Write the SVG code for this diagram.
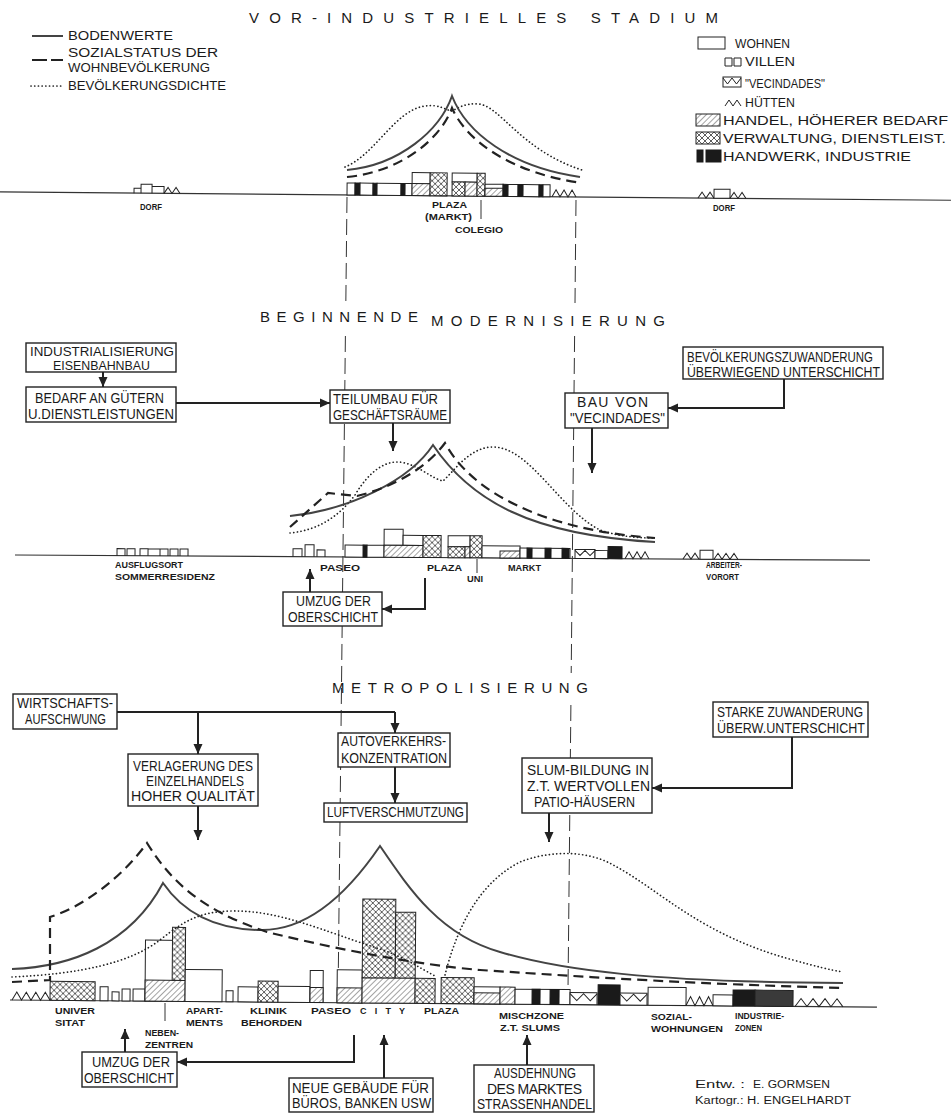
<svg xmlns="http://www.w3.org/2000/svg" width="951" height="1113" viewBox="0 0 951 1113">
<style>
text{font-family:"Liberation Sans",Arial,sans-serif;fill:#1a1a1a}
.ttl{font-size:15px}
.lg{font-size:12px}
.bt{font-size:14px}
.bs{font-size:12.5px}
.sl{font-size:9px;font-weight:bold}
.cr{font-size:10px}
.bx{fill:#fff;stroke:#222;stroke-width:1.4}
.b{fill:#fff;stroke:#222;stroke-width:1}
.h{fill:url(#hatch);stroke:#222;stroke-width:1}
.x{fill:url(#xhatch);stroke:#222;stroke-width:1}
.k{fill:#1a1a1a;stroke:#1a1a1a;stroke-width:1}
.g{fill:#3a3a3a;stroke:#222;stroke-width:1}
.o{fill:none;stroke:#222;stroke-width:1}
.base{stroke:#333;stroke-width:1.2;fill:none}
.guide{stroke:#333;stroke-width:1;fill:none;stroke-dasharray:16 6}
.c1{fill:none;stroke:#444;stroke-width:2}
.c2{fill:none;stroke:#222;stroke-width:2.2;stroke-dasharray:10 6}
.c3{fill:none;stroke:#222;stroke-width:1.7;stroke-dasharray:0.1 3.6;stroke-linecap:round}
.ar{fill:none;stroke:#222;stroke-width:2;marker-end:url(#ah)}
.ln{fill:none;stroke:#222;stroke-width:2}
</style>
<defs>
<pattern id="hatch" patternUnits="userSpaceOnUse" width="4" height="4" patternTransform="rotate(45)"><rect width="4" height="4" fill="#fff"/><line x1="0" y1="0" x2="0" y2="4" stroke="#333" stroke-width="0.9"/></pattern>
<pattern id="xhatch" patternUnits="userSpaceOnUse" width="6" height="6"><rect width="6" height="6" fill="#fff"/><path d="M0,0 L6,6 M6,0 L0,6" stroke="#333" stroke-width="0.8"/></pattern>
<marker id="ah" viewBox="0 0 10 10" refX="10" refY="5" markerWidth="10" markerHeight="10" markerUnits="userSpaceOnUse" orient="auto"><path d="M0,0.5 L10,5 L0,9.5 z" fill="#222"/></marker>
</defs>
<rect width="951" height="1113" fill="#fff"/>

<!-- titles -->
<g id="titles">
<text class="ttl" x="249" y="23" textLength="469" lengthAdjust="spacing">VOR-INDUSTRIELLES STADIUM</text>
<text class="ttl" x="260" y="322" textLength="158" lengthAdjust="spacing">BEGINNENDE</text>
<text class="ttl" x="431" y="326" textLength="234" lengthAdjust="spacing">MODERNISIERUNG</text>
<text class="ttl" x="332" y="693" textLength="256" lengthAdjust="spacing">METROPOLISIERUNG</text>
</g>

<!-- legend left -->
<g id="legend-lines">
<line x1="32" y1="36" x2="63" y2="36" class="c1"/>
<text class="lg" x="68" y="40" textLength="105" lengthAdjust="spacingAndGlyphs">BODENWERTE</text>
<line x1="32" y1="60" x2="63" y2="60" stroke="#222" stroke-width="2.2" stroke-dasharray="15 4"/>
<text class="lg" x="68" y="57" textLength="150" lengthAdjust="spacingAndGlyphs">SOZIALSTATUS DER</text>
<text class="lg" x="68" y="72" textLength="142" lengthAdjust="spacingAndGlyphs">WOHNBEVÖLKERUNG</text>
<line x1="31" y1="86" x2="63" y2="86" class="c3"/>
<text class="lg" x="68" y="90" textLength="158" lengthAdjust="spacingAndGlyphs">BEVÖLKERUNGSDICHTE</text>
</g>

<!-- legend right -->
<g id="legend-uses">
<rect class="b" x="698" y="37" width="27" height="12"/>
<text class="lg" x="735" y="48" textLength="55" lengthAdjust="spacingAndGlyphs">WOHNEN</text>
<path class="o" d="M725,66 V58 H732 V66 Z M734,66 V58 H741 V66 Z"/>
<text class="lg" x="745" y="66" textLength="50" lengthAdjust="spacingAndGlyphs">VILLEN</text>
<rect class="b" x="723" y="77" width="18" height="10"/>
<path class="o" d="M723,78 L727.5,84 L732,78 L736.5,84 L741,78"/>
<text class="lg" x="745" y="88" textLength="80" lengthAdjust="spacingAndGlyphs">"VECINDADES"</text>
<path class="o" d="M725,106 L729,100 L733,106 L737,100 L741,106"/>
<text class="lg" x="745" y="107" textLength="50" lengthAdjust="spacingAndGlyphs">HÜTTEN</text>
<rect class="h" x="696" y="114" width="24" height="12"/>
<text class="lg" x="723" y="125" textLength="225" lengthAdjust="spacingAndGlyphs">HANDEL, HÖHERER BEDARF</text>
<rect class="x" x="696" y="132" width="24" height="12"/>
<text class="lg" x="723" y="143" textLength="223" lengthAdjust="spacingAndGlyphs">VERWALTUNG, DIENSTLEIST.</text>
<rect class="k" x="697" y="150" width="6" height="12"/>
<rect class="k" x="706" y="150" width="15" height="12"/>
<text class="lg" x="723" y="161" textLength="188" lengthAdjust="spacingAndGlyphs">HANDWERK, INDUSTRIE</text>
</g>

<!-- guide lines -->
<g id="guides">
<path class="guide" d="M347,197 L345.8,305 M345.4,336 L338,1000"/>
<path class="guide" d="M576,200 L575,303 M574.6,336 L571.2,673 M570.9,705 L568,990"/>
</g>

<!-- STAGE 1 -->
<g id="strip1" transform="rotate(0.5 347 195)">
<line class="base" x1="0" y1="195" x2="951" y2="195"/>
<path class="o" d="M134,195 V190 H141 V195 M141,195 V186 H152 V195 M152,195 V188 H164 V195"/>
<path class="o" d="M164,195 L168,189 L172,195 L176,189 L180,195"/>
<path class="o" d="M698,195 L702,189 L706,195 L710,189 L714,195"/>
<rect class="b" x="714" y="186" width="16" height="9"/>
<path class="o" d="M730,195 L734,189 L738,195 L742,189 L746,195"/>
<rect class="b" x="347" y="183" width="8" height="12"/>
<rect class="k" x="355" y="183" width="5" height="12"/>
<rect class="b" x="360" y="183" width="13" height="12"/>
<rect class="k" x="373" y="183" width="4" height="12"/>
<rect class="b" x="377" y="183" width="24" height="12"/>
<rect class="k" x="401" y="183" width="4" height="12"/>
<rect class="b" x="405" y="183" width="7" height="12"/>
<rect class="b" x="412" y="172" width="18" height="11"/>
<rect class="h" x="412" y="183" width="18" height="12"/>
<rect class="x" x="430" y="172" width="17" height="23"/>
<rect class="b" x="452" y="172" width="25" height="9"/>
<rect class="x" x="452" y="181" width="13" height="14"/>
<rect class="h" x="465" y="181" width="12" height="14"/>
<rect class="x" x="477" y="172" width="8" height="23"/>
<rect class="b" x="485" y="183" width="18" height="12"/>
<rect class="h" x="485" y="187" width="18" height="8"/>
<rect class="k" x="503" y="183" width="5" height="12"/>
<rect class="b" x="508" y="183" width="10" height="12"/>
<rect class="k" x="518" y="183" width="5" height="12"/>
<rect class="b" x="523" y="183" width="16" height="12"/>
<rect class="k" x="539" y="183" width="4" height="12"/>
<rect class="b" x="543" y="183" width="7" height="12"/>
<path class="o" d="M552,195 L556,188 L560,195 L564,188 L568,195 L572,188 L576,195"/>
</g>
<g id="curves1">
<path class="c3" d="M345,167 C375,155 395,110 425,106 C440,104 445,110 452,111 C458,108 465,103 478,104 C500,105 520,150 582,170"/>
<path class="c1" d="M347,170 C400,165 440,130 452,96 C466,132 510,167 580,177"/>
<path class="c2" d="M347,177 C400,172 440,140 452,108 C466,140 510,173 582,183"/>
</g>
<g id="labels1">
<text class="sl" x="140" y="210" textLength="22" lengthAdjust="spacingAndGlyphs">DORF</text>
<text class="sl" x="713" y="211" textLength="22" lengthAdjust="spacingAndGlyphs">DORF</text>
<text class="sl" x="432" y="208" textLength="35" lengthAdjust="spacingAndGlyphs">PLAZA</text>
<text class="sl" x="425" y="220" textLength="47" lengthAdjust="spacingAndGlyphs">(MARKT)</text>
<text class="sl" x="455" y="233" textLength="48" lengthAdjust="spacingAndGlyphs">COLEGIO</text>
<line x1="481" y1="200" x2="481" y2="219" stroke="#333" stroke-width="1"/>
</g>

<!-- STAGE 2 -->
<g id="strip2" transform="rotate(0.35 15 555)">
<line class="base" x1="15" y1="555" x2="870" y2="555"/>
<path class="o" d="M117,555 V548 H125 V555 M127,555 V548 H135 V555 M140,555 V548 H148 V555 M148,548 H160 M160,555 V548 H168 V555 M170,555 V548 H178 V555 M180,555 V548 H188 V555"/>
<path class="o" d="M293,555 V547 H302 V555 M305,555 V543 H314 V555 M317,555 V548 H325 V555"/>
<rect class="b" x="345" y="543" width="22" height="12"/>
<rect class="k" x="363" y="543" width="4" height="12"/>
<rect class="b" x="367" y="543" width="17" height="12"/>
<rect class="b" x="384" y="527" width="19" height="16"/>
<rect class="b" x="403" y="533" width="20" height="10"/>
<rect class="h" x="384" y="543" width="39" height="12"/>
<rect class="x" x="423" y="533" width="18" height="22"/>
<rect class="b" x="448" y="533" width="22" height="11"/>
<rect class="x" x="448" y="544" width="17" height="11"/>
<rect class="h" x="465" y="544" width="5" height="11"/>
<rect class="x" x="470" y="533" width="12" height="22"/>
<rect class="b" x="482" y="543" width="38" height="12"/>
<rect class="h" x="500" y="548" width="20" height="7"/>
<rect class="b" x="520" y="545" width="50" height="10"/>
<rect class="k" x="527" y="545" width="5" height="10"/>
<rect class="k" x="545" y="545" width="6" height="10"/>
<rect class="k" x="562" y="545" width="7" height="10"/>
<rect class="b" x="575" y="546" width="20" height="9"/>
<path class="o" d="M575,547 L580,552 L585,547 L590,552 L595,547"/>
<rect class="b" x="595" y="547" width="13" height="8"/>
<rect class="k" x="608" y="543" width="14" height="12"/>
<path class="o" d="M625,555 L629,548 L633,555 L637,548 L641,555 L645,548 L649,555"/>
<path class="o" d="M683,555 L687,549 L691,555 L695,549 L699,555"/>
<rect class="b" x="700" y="546" width="13" height="9"/>
<path class="o" d="M714,555 L718,549 L722,555 L726,549 L730,555 L734,549 L738,555"/>
</g>
<g id="curves2">
<path class="c3" d="M290,533 C320,530 340,515 355,495 C370,470 385,462 397,462 C415,462 430,478 443,481 C455,470 470,447 493,447 C530,447 560,510 600,530 C620,537 640,538 655,538"/>
<path class="c1" d="M290,516 C350,510 410,480 433,445 C470,500 530,535 655,542"/>
<path class="c2" d="M290,527 L328,493 L357,496 C390,488 425,470 445,443 C470,490 540,530 655,538"/>
</g>
<g id="labels2">
<text class="sl" x="115" y="568" textLength="68" lengthAdjust="spacingAndGlyphs">AUSFLUGSORT</text>
<text class="sl" x="115" y="580" textLength="100" lengthAdjust="spacingAndGlyphs">SOMMERRESIDENZ</text>
<text class="sl" x="320" y="571" textLength="40" lengthAdjust="spacingAndGlyphs">PASEO</text>
<text class="sl" x="427" y="571" textLength="35" lengthAdjust="spacingAndGlyphs">PLAZA</text>
<text class="sl" x="467" y="582" textLength="16" lengthAdjust="spacingAndGlyphs">UNI</text>
<line x1="477" y1="559" x2="477" y2="573" stroke="#333" stroke-width="1"/>
<text class="sl" x="508" y="571" textLength="33" lengthAdjust="spacingAndGlyphs">MARKT</text>
<text class="sl" x="706" y="568" textLength="36" lengthAdjust="spacingAndGlyphs">ARBEITER-</text>
<text class="sl" x="706" y="580" textLength="33" lengthAdjust="spacingAndGlyphs">VORORT</text>
</g>

<!-- STAGE 3 -->
<g id="strip3" transform="rotate(0.47 10 1000)">
<line class="base" x1="10" y1="1000" x2="877" y2="1000"/>
<path class="o" d="M12,1000 L16.75,992 L21.5,1000 L26.25,992 L31,1000 L35.75,992 L40.5,1000 L45.25,992 L50,1000"/>
<rect class="x" x="50" y="981" width="45" height="19"/>
<rect class="b" x="100" y="986" width="8" height="14"/>
<rect class="b" x="112" y="991" width="7" height="9"/>
<rect class="b" x="122" y="988" width="8" height="12"/>
<rect class="b" x="133" y="988" width="12" height="12"/>
<rect class="b" x="145" y="939" width="40" height="61"/>
<rect class="h" x="145" y="979" width="40" height="21"/>
<rect class="x" x="172" y="926" width="13" height="53"/>
<rect class="b" x="185" y="968" width="37" height="32"/>
<rect class="b" x="226" y="989" width="7" height="11"/>
<rect class="b" x="238" y="985" width="20" height="15"/>
<rect class="x" x="258" y="979" width="20" height="21"/>
<rect class="b" x="278" y="984" width="32" height="16"/>
<rect class="b" x="310" y="968" width="13" height="32"/>
<rect class="h" x="310" y="985" width="13" height="15"/>
<rect class="b" x="337" y="967" width="25" height="33"/>
<rect class="h" x="337" y="985" width="25" height="15"/>
<rect class="x" x="362" y="896" width="33" height="79"/>
<rect class="x" x="395" y="909" width="20" height="66"/>
<rect class="h" x="362" y="975" width="53" height="25"/>
<rect class="x" x="415" y="975" width="20" height="25"/>
<rect class="x" x="441" y="974" width="33" height="26"/>
<rect class="b" x="474" y="983" width="26" height="17"/>
<rect class="h" x="474" y="989" width="26" height="11"/>
<rect class="h" x="500" y="983" width="15" height="17"/>
<rect class="b" x="515" y="985" width="55" height="15"/>
<rect class="k" x="532" y="985" width="8" height="15"/>
<rect class="k" x="550" y="985" width="9" height="15"/>
<rect class="b" x="570" y="988" width="27" height="12"/>
<path class="o" d="M570,989 L576.75,996 L583.5,989 L590.25,996 L597,989"/>
<rect class="k" x="598" y="980" width="22" height="20"/>
<rect class="b" x="620" y="988" width="27" height="12"/>
<path class="o" d="M620,989 L626.75,996 L633.5,989 L640.25,996 L647,989"/>
<rect class="b" x="648" y="982" width="38" height="18"/>
<path class="o" d="M686,1000 L690.5,991 L695,1000 L699.5,991 L704,1000 L708.5,991 L713,1000"/>
<rect class="b" x="713" y="989" width="20" height="11"/>
<rect class="k" x="733" y="984" width="22" height="16"/>
<rect class="g" x="755" y="984" width="38" height="16"/>
<path class="o" d="M795,1000 L801,992 L807,1000 L813,992 L819,1000 L825,992 L831,1000 L837,992 L843,1000"/>
</g>
<g id="curves3">
<path class="c3" d="M12,977 C80,974 130,963 160,940 C185,920 200,912 230,911 C280,910 320,930 383,950 C405,958 420,968 435,976"/>
<path class="c3" d="M445,975 C455,935 475,885 520,862 C545,852 585,848 615,866 C660,890 700,935 793,960 C815,966 830,970 843,972"/>
<path class="c1" d="M12,969 C70,967 130,945 163,883 C185,915 220,930 262,930 C310,930 350,890 380,846 C410,890 440,935 500,952 C560,970 650,982 843,983"/>
<path class="c2" d="M12,982 L50,980 L50,917 C80,908 120,880 147,843 C170,880 200,910 267,932 C340,950 420,965 480,970 C600,978 700,984 843,988"/>
</g>
<g id="labels3">
<text class="sl" x="55" y="1014" textLength="40" lengthAdjust="spacingAndGlyphs">UNIVER</text>
<text class="sl" x="55" y="1026" textLength="30" lengthAdjust="spacingAndGlyphs">SITAT</text>
<line x1="165" y1="1003" x2="165" y2="1021" stroke="#333" stroke-width="1"/>
<text class="sl" x="145" y="1036" textLength="34" lengthAdjust="spacingAndGlyphs">NEBEN-</text>
<text class="sl" x="145" y="1048" textLength="48" lengthAdjust="spacingAndGlyphs">ZENTREN</text>
<text class="sl" x="186" y="1014" textLength="37" lengthAdjust="spacingAndGlyphs">APART-</text>
<text class="sl" x="186" y="1026" textLength="37" lengthAdjust="spacingAndGlyphs">MENTS</text>
<text class="sl" x="250" y="1014" textLength="37" lengthAdjust="spacingAndGlyphs">KLINIK</text>
<text class="sl" x="241" y="1026" textLength="61" lengthAdjust="spacingAndGlyphs">BEHORDEN</text>
<text class="sl" x="311" y="1014" textLength="40" lengthAdjust="spacingAndGlyphs">PASEO</text>
<text class="sl" x="360" y="1014" textLength="45" lengthAdjust="spacing">C I T Y</text>
<text class="sl" x="424" y="1014" textLength="35" lengthAdjust="spacingAndGlyphs">PLAZA</text>
<text class="sl" x="499" y="1019" textLength="65" lengthAdjust="spacingAndGlyphs">MISCHZONE</text>
<text class="sl" x="500" y="1031" textLength="60" lengthAdjust="spacingAndGlyphs">Z.T. SLUMS</text>
<text class="sl" x="651" y="1020" textLength="41" lengthAdjust="spacingAndGlyphs">SOZIAL-</text>
<text class="sl" x="651" y="1032" textLength="72" lengthAdjust="spacingAndGlyphs">WOHNUNGEN</text>
<text class="sl" x="735" y="1019" textLength="49" lengthAdjust="spacingAndGlyphs">INDUSTRIE-</text>
<text class="sl" x="735" y="1031" textLength="27" lengthAdjust="spacingAndGlyphs">ZONEN</text>
<text class="cr" x="695" y="1088" textLength="50" lengthAdjust="spacingAndGlyphs">Entw. :</text>
<text class="cr" x="753" y="1088" textLength="77" lengthAdjust="spacingAndGlyphs">E. GORMSEN</text>
<text class="cr" x="695" y="1104" textLength="156" lengthAdjust="spacingAndGlyphs">Kartogr.: H. ENGELHARDT</text>
</g>

<!-- connectors -->
<g id="connectors">
<path class="ar" d="M103,372 V387"/>
<path class="ar" d="M176,403 H330"/>
<path class="ar" d="M393,423 V451"/>
<path class="ar" d="M784,379 V408 H668"/>
<path class="ar" d="M592,428 V473"/>
<path class="ar" d="M310,592 V569"/>
<path class="ar" d="M425,578 V609 H382"/>
<path class="ln" d="M117,712 H395"/>
<path class="ar" d="M198,712 V754"/>
<path class="ar" d="M395,712 V733"/>
<path class="ar" d="M395,767 V803"/>
<path class="ar" d="M198,806 V840"/>
<path class="ar" d="M792,737 V788 H652"/>
<path class="ar" d="M549,813 V842"/>
<path class="ar" d="M125,1052 V1029"/>
<path class="ar" d="M354,1035 V1062 H177"/>
<path class="ar" d="M384,1078 V1035"/>
<path class="ar" d="M527,1065 V1035"/>
</g>

<!-- boxes -->
<g id="n-industrialisierung">
<rect class="bx" x="26" y="343" width="150" height="29"/>
<text class="bs" x="30" y="356" textLength="144" lengthAdjust="spacingAndGlyphs">INDUSTRIALISIERUNG</text>
<text class="bs" x="53" y="370" textLength="97" lengthAdjust="spacingAndGlyphs">EISENBAHNBAU</text>
</g>
<g id="n-bedarf">
<rect class="bx" x="26" y="387" width="150" height="35"/>
<text class="bt" x="35" y="403" textLength="129" lengthAdjust="spacingAndGlyphs">BEDARF AN GÜTERN</text>
<text class="bt" x="28" y="419" textLength="146" lengthAdjust="spacingAndGlyphs">U.DIENSTLEISTUNGEN</text>
</g>
<g id="n-teilumbau">
<rect class="bx" x="330" y="390" width="120" height="33"/>
<text class="bt" x="333" y="404" textLength="105" lengthAdjust="spacingAndGlyphs">TEILUMBAU FÜR</text>
<text class="bt" x="333" y="420" textLength="114" lengthAdjust="spacingAndGlyphs">GESCHÄFTSRÄUME</text>
</g>
<g id="n-bevzuwanderung">
<rect class="bx" x="683" y="347" width="200" height="32"/>
<text class="bt" x="687" y="362" textLength="186" lengthAdjust="spacingAndGlyphs">BEVÖLKERUNGSZUWANDERUNG</text>
<text class="bt" x="687" y="377" textLength="193" lengthAdjust="spacingAndGlyphs">ÜBERWIEGEND UNTERSCHICHT</text>
</g>
<g id="n-bauvon">
<rect class="bx" x="565" y="393" width="103" height="35"/>
<text class="bt" x="577" y="407" textLength="71" lengthAdjust="spacing">BAU  VON</text>
<text class="bt" x="570" y="423" textLength="95" lengthAdjust="spacingAndGlyphs">"VECINDADES"</text>
</g>
<g id="n-umzug1">
<rect class="bx" x="283" y="592" width="99" height="34"/>
<text class="bt" x="296" y="606" textLength="75" lengthAdjust="spacingAndGlyphs">UMZUG DER</text>
<text class="bt" x="288" y="622" textLength="90" lengthAdjust="spacingAndGlyphs">OBERSCHICHT</text>
</g>
<g id="n-wirtschaft">
<rect class="bx" x="13" y="694" width="104" height="35"/>
<text class="bt" x="17" y="708" textLength="96" lengthAdjust="spacingAndGlyphs">WIRTSCHAFTS-</text>
<text class="bt" x="25" y="724" textLength="81" lengthAdjust="spacingAndGlyphs">AUFSCHWUNG</text>
</g>
<g id="n-verlagerung">
<rect class="bx" x="128" y="754" width="130" height="52"/>
<text class="bt" x="133" y="771" textLength="120" lengthAdjust="spacingAndGlyphs">VERLAGERUNG DES</text>
<text class="bt" x="146" y="786" textLength="98" lengthAdjust="spacingAndGlyphs">EINZELHANDELS</text>
<text class="bt" x="131" y="801" textLength="124" lengthAdjust="spacingAndGlyphs">HOHER  QUALITÄT</text>
</g>
<g id="n-autoverkehr">
<rect class="bx" x="338" y="733" width="112" height="34"/>
<text class="bt" x="341" y="746" textLength="105" lengthAdjust="spacingAndGlyphs">AUTOVERKEHRS-</text>
<text class="bt" x="341" y="763" textLength="106" lengthAdjust="spacingAndGlyphs">KONZENTRATION</text>
</g>
<g id="n-luft">
<rect class="bx" x="324" y="803" width="143" height="19"/>
<text class="bt" x="327" y="817" textLength="137" lengthAdjust="spacingAndGlyphs">LUFTVERSCHMUTZUNG</text>
</g>
<g id="n-starke">
<rect class="bx" x="713" y="702" width="155" height="35"/>
<text class="bt" x="717" y="717" textLength="146" lengthAdjust="spacingAndGlyphs">STARKE ZUWANDERUNG</text>
<text class="bt" x="717" y="733" textLength="148" lengthAdjust="spacingAndGlyphs">ÜBERW.UNTERSCHICHT</text>
</g>
<g id="n-slum">
<rect class="bx" x="522" y="758" width="130" height="55"/>
<text class="bt" x="527" y="775" textLength="122" lengthAdjust="spacingAndGlyphs">SLUM-BILDUNG IN</text>
<text class="bt" x="527" y="791" textLength="123" lengthAdjust="spacingAndGlyphs">Z.T. WERTVOLLEN</text>
<text class="bt" x="534" y="807" textLength="101" lengthAdjust="spacingAndGlyphs">PATIO-HÄUSERN</text>
</g>
<g id="n-umzug2">
<rect class="bx" x="82" y="1052" width="95" height="35"/>
<text class="bt" x="92" y="1067" textLength="78" lengthAdjust="spacingAndGlyphs">UMZUG DER</text>
<text class="bt" x="84" y="1083" textLength="90" lengthAdjust="spacingAndGlyphs">OBERSCHICHT</text>
</g>
<g id="n-neue">
<rect class="bx" x="289" y="1078" width="144" height="34"/>
<text class="bt" x="292" y="1093" textLength="137" lengthAdjust="spacingAndGlyphs">NEUE GEBÄUDE FÜR</text>
<text class="bt" x="292" y="1108" textLength="139" lengthAdjust="spacingAndGlyphs">BÜROS, BANKEN USW</text>
</g>
<g id="n-ausdehnung">
<rect class="bx" x="474" y="1065" width="120" height="47"/>
<text class="bt" x="494" y="1078" textLength="82" lengthAdjust="spacingAndGlyphs">AUSDEHNUNG</text>
<text class="bt" x="487" y="1094" textLength="95" lengthAdjust="spacing">DES  MARKTES</text>
<text class="bt" x="477" y="1109" textLength="115" lengthAdjust="spacingAndGlyphs">STRASSENHANDEL</text>
</g>
</svg>
